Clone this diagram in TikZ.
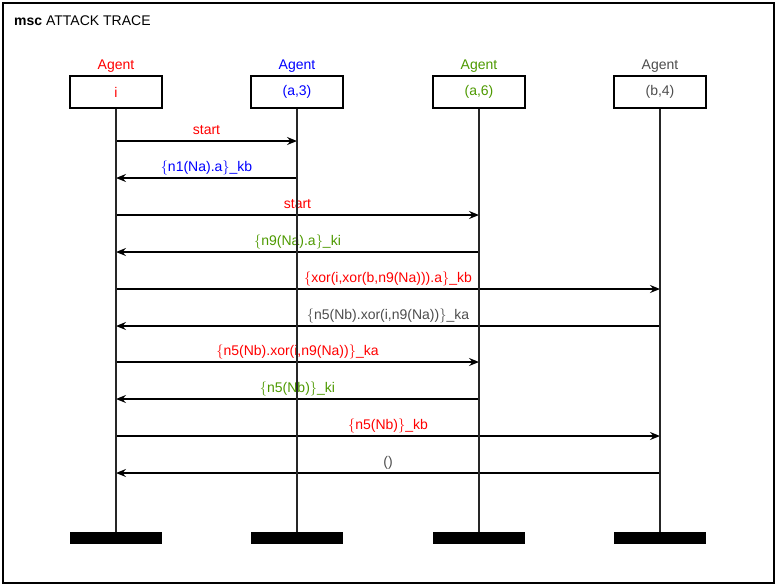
\documentclass[tikz,border=0pt]{standalone}
\usepackage{fontspec}
\setmainfont{Liberation Sans}
\usetikzlibrary{arrows.meta}
\definecolor{agred}{RGB}{255,0,0}
\definecolor{agblue}{RGB}{0,0,255}
\definecolor{aggreen}{RGB}{77,153,0}
\definecolor{aggray}{RGB}{77,77,77}
% thin, tall braces around encrypted terms
\newcommand{\lbr}{\ensuremath{\{}}
\newcommand{\rbr}{\ensuremath{\}}}
\begin{document}
\begin{tikzpicture}[x=1pt,y=-1pt,
  font=\fontsize{14}{16}\selectfont,
  headbox/.style={draw, line width=1.3pt, minimum width=92pt, minimum height=32pt, inner sep=0pt},
  rolelbl/.style={anchor=base, inner sep=0pt},
  lifeline/.style={line width=1.3pt, draw=black!85},
  msg/.style={line width=1.5pt, -{Stealth[length=10pt,width=8pt,inset=3.5pt]}},
  msglbl/.style={anchor=base, inner sep=0pt, yshift=7pt},
  endbar/.style={fill=black, minimum width=92pt, minimum height=12pt, inner sep=0pt}]
\useasboundingbox (0,0) rectangle (777,587);
% frame and title
\draw[line width=1.3pt] (3,3) rectangle (774,583);
\node[anchor=base west, inner sep=0pt] (title) at (14,25) {\textbf{msc} ATTACK TRACE};

% instance heads
\node[headbox, text=agred]   (hi)  at (116,92) {i};
\node[headbox, text=agblue]  (ha3) at (297,92) {(a,3)};
\node[headbox, text=aggreen] (ha6) at (479,92) {(a,6)};
\node[headbox, text=aggray]  (hb4) at (660,92) {(b,4)};
\node[rolelbl, text=agred]   (ri)  at (116,69) {Agent};
\node[rolelbl, text=agblue]  (ra3) at (297,69) {Agent};
\node[rolelbl, text=aggreen] (ra6) at (479,69) {Agent};
\node[rolelbl, text=aggray]  (rb4) at (660,69) {Agent};

% instance ends
\node[endbar] (ei)  at (116,538) {};
\node[endbar] (ea3) at (297,538) {};
\node[endbar] (ea6) at (479,538) {};
\node[endbar] (eb4) at (660,538) {};

% message rows
\coordinate (m1) at (0,141);
\coordinate (m2) at (0,178);
\coordinate (m3) at (0,215);
\coordinate (m4) at (0,252);
\coordinate (m5) at (0,289);
\coordinate (m6) at (0,326);
\coordinate (m7) at (0,362);
\coordinate (m8) at (0,399);
\coordinate (m9) at (0,436);
\coordinate (m10) at (0,473);

% messages
\draw[msg] (hi |- m1) -- node[msglbl, text=agred] {start} (ha3 |- m1);
\draw[msg] (ha3 |- m2) -- node[msglbl, text=agblue] {\lbr n1(Na).a\rbr\_kb} (hi |- m2);
\draw[msg] (hi |- m3) -- node[msglbl, text=agred] {start} (ha6 |- m3);
\draw[msg] (ha6 |- m4) -- node[msglbl, text=aggreen] {\lbr n9(Na).a\rbr\_ki} (hi |- m4);
\draw[msg] (hi |- m5) -- node[msglbl, text=agred] {\lbr xor(i,xor(b,n9(Na))).a\rbr\_kb} (hb4 |- m5);
\draw[msg] (hb4 |- m6) -- node[msglbl, text=aggray] {\lbr n5(Nb).xor(i,n9(Na))\rbr\_ka} (hi |- m6);
\draw[msg] (hi |- m7) -- node[msglbl, text=agred] {\lbr n5(Nb).xor(i,n9(Na))\rbr\_ka} (ha6 |- m7);
\draw[msg] (ha6 |- m8) -- node[msglbl, text=aggreen] {\lbr n5(Nb)\rbr\_ki} (hi |- m8);
\draw[msg] (hi |- m9) -- node[msglbl, text=agred] {\lbr n5(Nb)\rbr\_kb} (hb4 |- m9);
\draw[msg] (hb4 |- m10) -- node[msglbl, text=aggray] {()} (hi |- m10);

% lifelines
\draw[lifeline] (hi.south) -- (ei.north);
\draw[lifeline] (ha3.south) -- (ea3.north);
\draw[lifeline] (ha6.south) -- (ea6.north);
\draw[lifeline] (hb4.south) -- (eb4.north);
\end{tikzpicture}
\end{document}
